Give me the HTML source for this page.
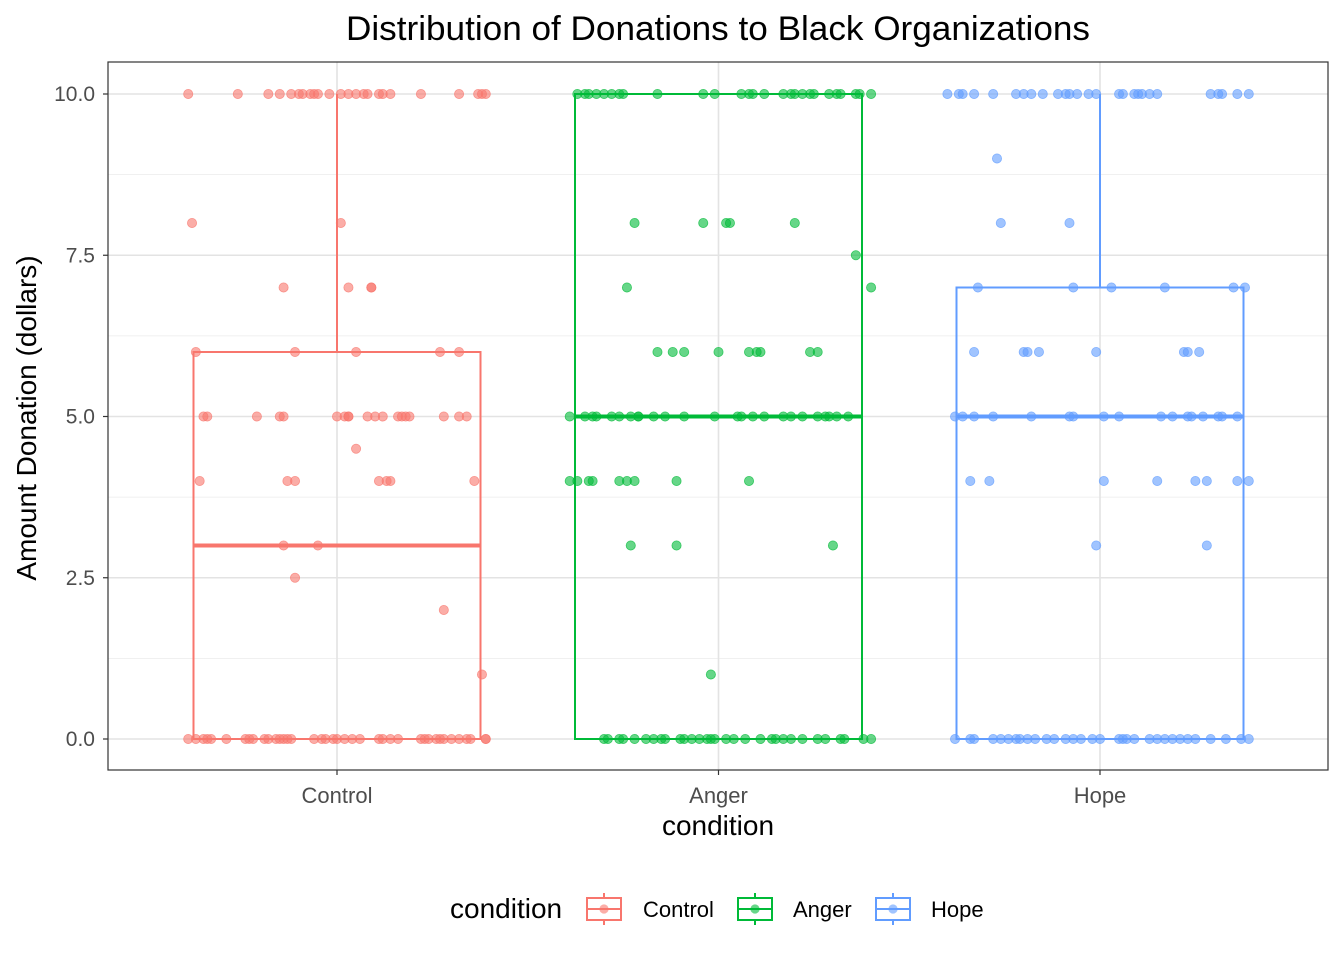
<!DOCTYPE html>
<html><head><meta charset="utf-8"><style>
html,body{margin:0;padding:0;background:#fff;}
svg{display:block;font-family:"Liberation Sans",Arial,sans-serif;}
</style></head><body>
<svg id="chart" width="1344" height="960" viewBox="0 0 1344 960" xmlns="http://www.w3.org/2000/svg">
<rect width="1344" height="960" fill="#fff"/>
<text x="718" y="40" text-anchor="middle" font-size="34" textLength="744" lengthAdjust="spacingAndGlyphs" fill="#000">Distribution of Donations to Black Organizations</text>
<g id="grid"></g>
<g id="boxes"></g>
<g id="points"></g>
<rect x="108" y="62" width="1220" height="708" fill="none" stroke="#333" stroke-width="1.2"/>
<g id="axes"></g>
<text transform="translate(36,418) rotate(-90)" text-anchor="middle" font-size="28" fill="#000">Amount Donation (dollars)</text>
<text x="718" y="835" text-anchor="middle" font-size="28" fill="#000">condition</text>
<g id="legend">
<text x="450" y="918" font-size="28" fill="#000">condition</text>
</g>
</svg>
<script>
const categories = ["Control", "Anger", "Hope"];
const colors = ["#F8766D", "#00BA38", "#619CFF"];
const yTicks = [0, 2.5, 5, 7.5, 10];
const yTickLabels = ["0.0", "2.5", "5.0", "7.5", "10.0"];
const boxLower = [0, 0, 0];
const boxMedian = [3, 5, 5];
const boxUpper = [6, 10, 7];
const whiskerLow = [0, 0, 0];
const whiskerHigh = [10, 10, 10];
// points: value -> jitter offsets (hundredths of category width)
const controlPts = {
 10:[-39,-26,-18,-15,-12,-10,-9,-7,-6,-5,-2,1,3,5,7,8,11,12,14,22,32,37,38,39],
 8:[-38,1], 7:[-14,3,9,9], 6:[-37,-11,5,27,32],
 5:[-35,-34,-21,-15,-14,0,2,3,3,8,10,12,16,17,18,19,28,32,34],
 4.5:[5], 4:[-36,-13,-11,11,13,14,36], 3:[-14,-5], 2.5:[-11], 2:[28], 1:[38],
 0:[-39,-37,-35,-34,-33,-29,-24,-23,-22,-19,-18,-16,-15,-14,-13,-12,-6,-4,-3,-1,0,2,4,6,11,12,14,16,22,23,24,26,27,28,30,32,34,35,39,39]
};
const angerPts = {
 10:[-37,-35,-34,-32,-30,-28,-26,-25,-16,-4,-1,6,8,9,12,17,19,20,22,24,25,29,31,32,36,37,40],
 8:[-22,-4,2,3,20], 7.5:[36], 7:[-24,40], 6:[-16,-12,-9,0,8,10,11,24,26],
 5:[-39,-35,-33,-32,-28,-26,-23,-21,-21,-17,-14,-9,-1,5,6,9,12,17,19,22,26,28,29,31,34],
 4:[-39,-37,-34,-33,-26,-24,-22,-11,8], 3:[-23,-11,30], 1:[-2],
 0:[-30,-29,-26,-25,-22,-19,-17,-15,-14,-10,-9,-7,-5,-3,-2,-1,2,4,7,11,14,15,17,19,22,26,28,32,33,38,40]
};
const hopePts = {
 10:[-40,-37,-36,-33,-28,-22,-20,-18,-15,-11,-9,-8,-6,-3,-1,5,6,9,10,11,13,15,29,31,32,36,39],
 9:[-27], 8:[-26,-8], 7:[-32,-7,3,17,35,38], 6:[-33,-20,-19,-16,-1,22,23,26],
 5:[-38,-36,-33,-28,-18,-8,-7,1,5,16,19,23,24,27,31,32,36],
 4:[-34,-29,1,15,25,28,36,39], 3:[-1,28],
 0:[-38,-34,-33,-28,-26,-24,-22,-21,-19,-17,-14,-12,-9,-7,-5,-2,0,5,6,7,9,13,15,17,19,21,23,25,29,33,37,39]
};
const groupPts = [controlPts, angerPts, hopePts];

const NS = "http://www.w3.org/2000/svg";
const px0 = 108, px1 = 1328, py0 = 62, py1 = 770;
const catStep = 381.5;
function xScale(i){ return 337 + i * catStep; }
function yScale(v){ return 739 - v * 64.5; }
function mk(tag, attrs, parent){
  const e = document.createElementNS(NS, tag);
  for (const k in attrs) e.setAttribute(k, attrs[k]);
  parent.appendChild(e); return e;
}
const grid = document.getElementById('grid');
mk('rect',{x:px0,y:py0,width:px1-px0,height:py1-py0,fill:'#fff'},grid);
for (let k=0;k<yTicks.length-1;k++){
  const v=(yTicks[k]+yTicks[k+1])/2;
  const l=mk('line',{x1:px0,x2:px1,y1:yScale(v),y2:yScale(v),stroke:'#ebebeb','stroke-width':0.8},grid);
  
  
}
yTicks.forEach(v=>{
  const l=mk('line',{x1:px0,x2:px1,y1:yScale(v),y2:yScale(v),stroke:'#e3e3e3','stroke-width':1.6},grid);
  
  
});
categories.forEach((c,i)=>{
  const l=mk('line',{x1:xScale(i),x2:xScale(i),y1:py0,y2:py1,stroke:'#e3e3e3','stroke-width':1.6},grid);
  
  
});
const boxes=document.getElementById('boxes');
const halfW=143.5;
categories.forEach((c,i)=>{
  const g=mk('g',{},boxes);
  
  
  const cx=xScale(i), col=colors[i];
  mk('line',{x1:cx,x2:cx,y1:yScale(boxUpper[i]),y2:yScale(whiskerHigh[i]),stroke:col,'stroke-width':2},g);
  mk('line',{x1:cx,x2:cx,y1:yScale(boxLower[i]),y2:yScale(whiskerLow[i]),stroke:col,'stroke-width':2},g);
  mk('rect',{x:cx-halfW,y:yScale(boxUpper[i]),width:2*halfW,height:yScale(boxLower[i])-yScale(boxUpper[i]),fill:'#fff','fill-opacity':0,stroke:col,'stroke-width':2},g);
  mk('line',{x1:cx-halfW,x2:cx+halfW,y1:yScale(boxMedian[i]),y2:yScale(boxMedian[i]),stroke:col,'stroke-width':4},g);
});
const pts=document.getElementById('points');
groupPts.forEach((gp,i)=>{
  Object.keys(gp).forEach(val=>{
    gp[val].forEach(j=>{
      const c=mk('circle',{cx:xScale(i)+j/100*catStep,cy:yScale(parseFloat(val)),r:4.6,fill:colors[i],'fill-opacity':0.6,stroke:colors[i],'stroke-opacity':0.7,'stroke-width':0.8},pts);
      
      
    });
  });
});
const axes=document.getElementById('axes');
yTicks.forEach((v,k)=>{
  mk('line',{x1:103,x2:108,y1:yScale(v),y2:yScale(v),stroke:'#333','stroke-width':1.2},axes);
  const t=mk('text',{x:95,y:yScale(v)+7,'text-anchor':'end','font-size':'21',fill:'#4d4d4d'},axes);
  t.textContent=yTickLabels[k];
  
  
});
categories.forEach((c,i)=>{
  mk('line',{x1:xScale(i),x2:xScale(i),y1:770,y2:775,stroke:'#333','stroke-width':1.2},axes);
  const t=mk('text',{x:xScale(i),y:803,'text-anchor':'middle','font-size':'22',fill:'#4d4d4d'},axes);
  t.textContent=c;
  
  
});
const legend=document.getElementById('legend');
const keyX=[587,738,876], labX=[643,793,931];
categories.forEach((c,i)=>{
  const g=mk('g',{},legend);
  
  
  const x=keyX[i], col=colors[i];
  mk('line',{x1:x+17,x2:x+17,y1:893,y2:925,stroke:col,'stroke-width':2},g);
  mk('rect',{x:x,y:898,width:34,height:22,fill:'#fff',stroke:col,'stroke-width':2},g);
  mk('line',{x1:x,x2:x+34,y1:909,y2:909,stroke:col,'stroke-width':2},g);
  mk('circle',{cx:x+17,cy:909,r:4.6,fill:col,'fill-opacity':0.6},g);
  const t=mk('text',{x:labX[i],y:917,'font-size':'22',fill:'#000'},g);
  t.textContent=c;
});
</script>
</body></html>
